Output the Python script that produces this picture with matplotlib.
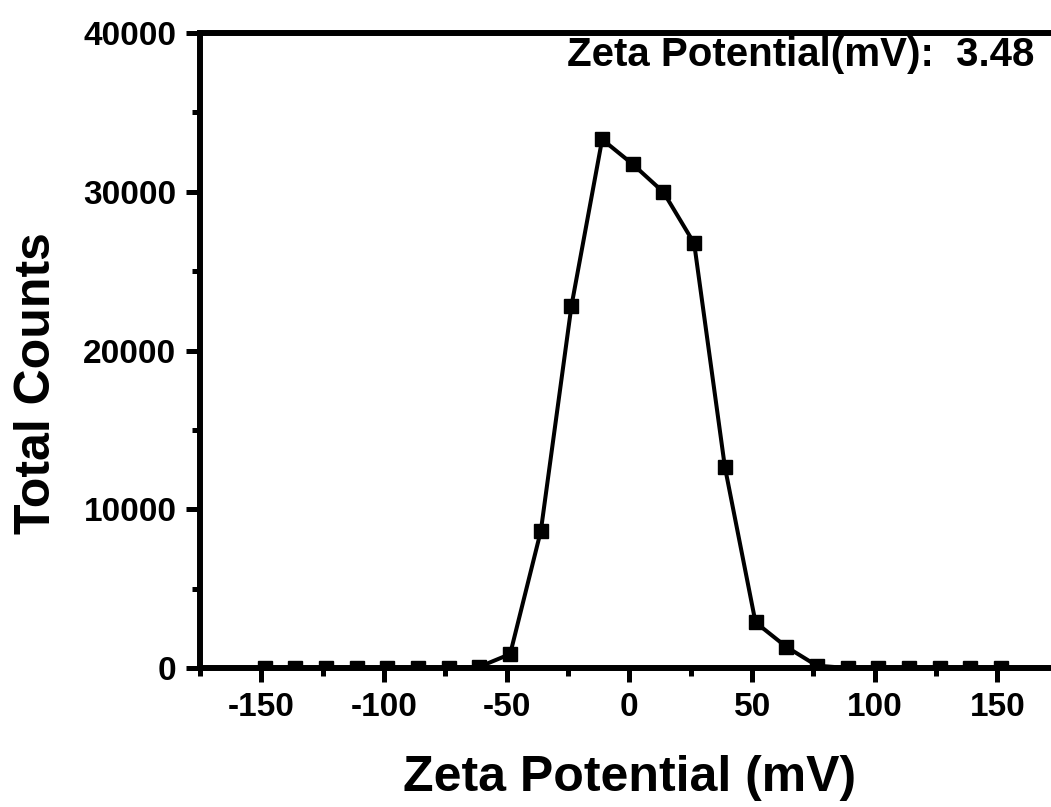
import numpy as np
import matplotlib
matplotlib.use("Agg")
import matplotlib.pyplot as plt
from matplotlib.ticker import MultipleLocator

plt.rcParams['font.family'] = ['Liberation Sans', 'DejaVu Sans']
plt.rcParams['font.weight'] = 'bold'
plt.rcParams['axes.unicode_minus'] = False

# zeta potential (mV) and total counts
zeta = [-148.6, -136.1, -123.6, -111.1, -98.6, -86.1, -73.6, -61.1,
        -48.6, -36.1, -23.6, -11.1, 1.4, 13.9, 26.4, 38.9, 51.4, 63.9,
        76.4, 88.9, 101.4, 113.9, 126.4, 138.9, 151.4]
counts = [0, 0, 0, 0, 0, 0, 0, 80,
          880, 8630, 22820, 33300, 31730, 29970, 26750, 12680, 2880, 1340,
          150, 0, 0, 0, 0, 0, 0]

xticks = [-150, -100, -50, 0, 50, 100, 150]
yticks = [0, 10000, 20000, 30000, 40000]
zeta_mean = 3.48

fig = plt.figure(figsize=(10.51, 8.07), dpi=100)
ax = fig.add_axes([0.1903, 0.1722, 0.8171, 0.7869])

ax.plot(zeta, counts, color='black', lw=2.9, marker='s', ms=10,
        mfc='black', mec='black', zorder=3)

ax.set_xlim(-175, 175)
ax.set_ylim(0, 40000)
ax.set_xticks(xticks)
ax.set_yticks(yticks)
ax.xaxis.set_minor_locator(MultipleLocator(25))
ax.yaxis.set_minor_locator(MultipleLocator(5000))

for s in ax.spines.values():
    s.set_linewidth(4.3)
    s.set_zorder(4)

ax.tick_params(which='major', direction='out', length=10, width=3.6,
               labelsize=24, pad=7, top=False, right=False)
ax.tick_params(which='minor', direction='out', length=6, width=3.6,
               top=False, right=False)
for lab in ax.get_xticklabels() + ax.get_yticklabels():
    lab.set_fontweight('bold')

ax.set_xlabel('Zeta Potential (mV)', fontsize=36, fontweight='bold')
ax.set_ylabel('Total Counts', fontsize=36, fontweight='bold')
ax.xaxis.set_label_coords(0.5, -0.137)
ax.yaxis.set_label_coords(-0.163, 0.449)

ax.text(165, 38600, 'Zeta Potential(mV):  %.2f' % zeta_mean, fontsize=29,
        fontweight='bold', ha='right', va='center')

fig.savefig('out.png', dpi=100)
